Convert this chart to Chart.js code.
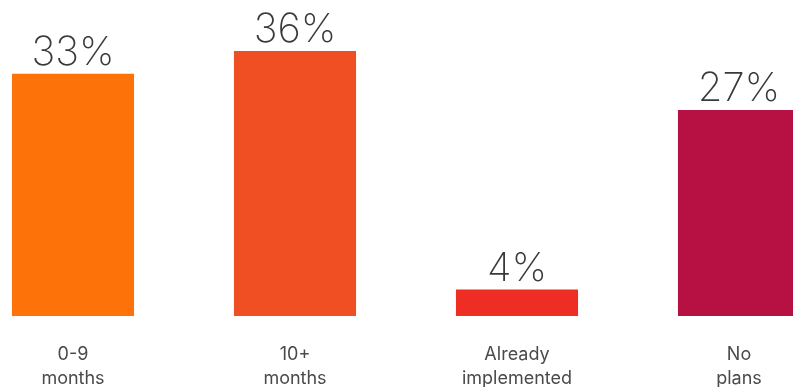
<!DOCTYPE html>
<html>
<head>
<meta charset="utf-8">
<script src="https://cdn.jsdelivr.net/npm/chart.js@4"></script>
<style>
  html, body { margin: 0; padding: 0; background: #fff; overflow: hidden; }
  #wrap { position: absolute; left: -38px; top: 0; width: 888px; height: 387px; }
</style>
</head>
<body>
<div id="wrap"><canvas id="chart" width="888" height="387"></canvas></div>
<script>
// data
const categories = [['0-9', 'months'], ['10+', 'months'], ['Already', 'implemented'], ['No', 'plans']];
const values = [32.9, 36.0, 3.6, 28.0];
const valueLabels = ['33%', '36%', '4%', '27%'];
const barColors = ['#FE7309', '#F04F23', '#EE2D25', '#B71043'];

const topLabels = {
  id: 'topLabels',
  afterDatasetsDraw(chart) {
    const ctx = chart.ctx;
    const meta = chart.getDatasetMeta(0);
    ctx.save();
    ctx.font = '200 40px Inter';
    ctx.fillStyle = '#3a3a3a';
    ctx.textAlign = 'center';
    ctx.textBaseline = 'alphabetic';
    meta.data.forEach((bar, i) => {
      ctx.fillText(valueLabels[i], bar.x, bar.y - 9);
    });
    ctx.restore();
  }
};

new Chart(document.getElementById('chart').getContext('2d'), {
  type: 'bar',
  data: {
    labels: categories,
    datasets: [{
      data: values,
      backgroundColor: barColors,
      borderWidth: 0,
      barPercentage: 0.55,
      categoryPercentage: 1
    }]
  },
  options: {
    responsive: false,
    animation: false,
    layout: { padding: { top: 51, left: 0, right: 0, bottom: 0 } },
    plugins: {
      legend: { display: false },
      tooltip: { enabled: false }
    },
    scales: {
      y: {
        display: false,
        min: 0,
        max: 36
      },
      x: {
        grid: { display: false },
        border: { display: false },
        afterFit(scale) { scale.height = 71; },
        ticks: {
          padding: 19,
          maxRotation: 0,
          color: '#4a4a4a',
          font: { family: 'Inter', size: 18, lineHeight: 1.3 }
        }
      }
    }
  },
  plugins: [topLabels]
});
</script>
</body>
</html>
